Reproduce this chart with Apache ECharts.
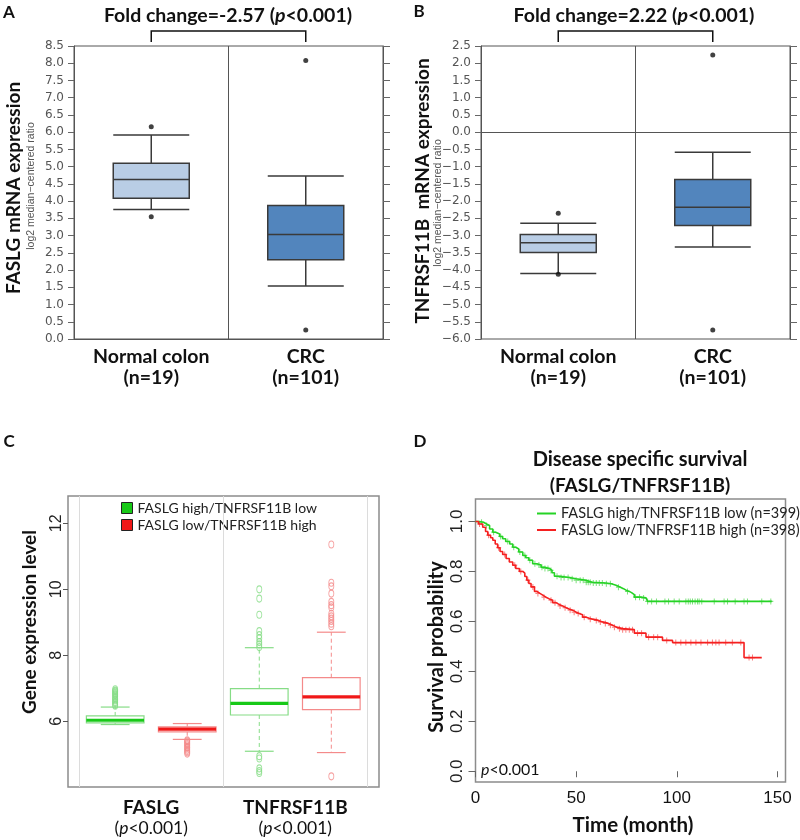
<!DOCTYPE html>
<html><head><meta charset="utf-8">
<script src="https://cdn.jsdelivr.net/npm/echarts@6/dist/echarts.min.js"></script>
<style>html,body{margin:0;padding:0;background:#fff}#c{width:800px;height:840px}</style>
</head><body><div id="c"></div>
<script>
// ---------- Panel A (FASLG, Oncomine) ----------
const aCategories = ['Normal colon', 'CRC'];
const aCounts = ['n=19', 'n=101'];
// [lower whisker, Q1, median, Q3, upper whisker]
const aBoxes = [[3.76, 4.08, 4.63, 5.10, 5.92], [1.54, 2.30, 3.03, 3.87, 4.73]];
const aOutliers = [[0, 6.16], [0, 3.55], [1, 8.08], [1, 0.26]];
const aFoldText = 'Fold change=-2.57';
const aYTitle = 'FASLG mRNA expression';

// ---------- Panel B (TNFRSF11B, Oncomine) ----------
const bCategories = ['Normal colon', 'CRC'];
const bCounts = ['n=19', 'n=101'];
const bBoxes = [[-4.10, -3.49, -3.21, -2.97, -2.64], [-3.33, -2.71, -2.18, -1.37, -0.58]];
const bOutliers = [[0, -2.35], [0, -4.12], [1, 2.24], [1, -5.74]];
const bFoldText = 'Fold change=2.22';
const bYTitle = 'TNFRSF11B  mRNA expression';
const yUnitText = 'log2 median\u2212centered ratio';

// ---------- Panel C (expression by group) ----------
const cGenes = ['FASLG', 'TNFRSF11B'];
const cGroups = ['FASLG high/TNFRSF11B low', 'FASLG low/TNFRSF11B high'];
const cHighLowBoxes = [[5.90, 5.95, 6.03, 6.16, 6.43], [5.09, 6.19, 6.54, 6.99, 8.23]];
const cLowHighBoxes = [[5.45, 5.68, 5.76, 5.83, 5.93], [5.05, 6.35, 6.74, 7.32, 8.70]];
const cHighLowOutliers = [
  [6.47, 6.50, 6.55, 6.58, 6.63, 6.66, 6.70, 6.74, 6.79, 6.82, 6.86, 6.90, 6.93, 6.97],
  [10.0, 9.72, 9.23, 8.73, 8.61, 8.51, 8.40, 8.33, 8.25, 4.94, 4.87, 4.57, 4.49, 4.43]
];
const cLowHighOutliers = [
  [5.42, 5.39, 5.35, 5.31, 5.27, 5.22, 5.19, 5.14, 5.10, 5.06, 5.02],
  [11.36, 10.20, 10.09, 9.87, 9.62, 9.52, 9.45, 9.26, 9.18, 9.11, 9.04, 8.96, 8.88, 4.33]
];
const cYTicks = [6, 8, 10, 12];
const cSeparators = [0.5, 2.5, 4.5];

// ---------- Panel D (Kaplan-Meier) ----------
const dGroups = ['FASLG high/TNFRSF11B low (n=399)', 'FASLG low/TNFRSF11B high (n=398)'];
const dHighLowTime = [0, 2, 4, 5.5, 7, 8.6, 10, 12, 13.5, 15, 17, 18.5, 20, 21.5, 23.5, 25, 26.5, 28.4, 30.5, 32.6, 34.5, 36.7, 38, 39.2, 42, 46.6, 50, 54.9, 58, 64.8, 67.5, 69.8, 72, 73.5, 74.8, 76.4, 77.5, 78.9, 82, 84.7, 85.5, 147.2];
const dHighLowSurv = [1.0, 0.997, 0.99, 0.984, 0.97, 0.957, 0.95, 0.94, 0.931, 0.92, 0.91, 0.897, 0.89, 0.878, 0.864, 0.855, 0.845, 0.831, 0.826, 0.817, 0.812, 0.804, 0.795, 0.781, 0.776, 0.771, 0.765, 0.757, 0.754, 0.751, 0.745, 0.737, 0.731, 0.725, 0.72, 0.715, 0.707, 0.697, 0.694, 0.691, 0.68, 0.68];
const dLowHighTime = [0, 1.5, 3.6, 5, 6.1, 7.5, 8.6, 9.8, 11, 12.2, 13.5, 15.2, 16.8, 18.5, 20, 21.8, 23.5, 24.5, 25.5, 26.5, 27.6, 29.3, 30.5, 32, 33.4, 35, 36.7, 38.3, 40, 41.5, 43.3, 45, 46.5, 48.3, 50, 51.5, 53.2, 55, 56.5, 58.2, 61, 63.1, 66, 68.1, 70, 73.1, 78.9, 84.7, 92.9, 97.9, 133.4, 142.2];
const dLowHighSurv = [1.0, 0.99, 0.977, 0.96, 0.945, 0.935, 0.925, 0.91, 0.895, 0.88, 0.868, 0.852, 0.838, 0.825, 0.812, 0.80, 0.793, 0.78, 0.765, 0.752, 0.738, 0.72, 0.712, 0.705, 0.697, 0.69, 0.685, 0.675, 0.668, 0.662, 0.655, 0.65, 0.645, 0.637, 0.632, 0.627, 0.617, 0.613, 0.609, 0.604, 0.598, 0.592, 0.585, 0.577, 0.571, 0.567, 0.553, 0.537, 0.524, 0.515, 0.455, 0.455];
const dHighLowCensor = [3, 5.5, 9, 12.5, 16, 19, 22, 24.5, 27, 29.5, 31.5, 33, 34.5, 36, 37.5, 40.5, 42.5, 44, 46, 48, 50, 52, 53.5, 55, 56, 57, 58.5, 60, 61.5, 63, 65, 67, 71, 75.5, 79.5, 81.5, 83.5, 85.5, 87.5, 89.9, 94.1, 95.9, 98.7, 101.2, 104.5, 105.7, 106.7, 107.8, 109.1, 110.3, 111.1, 112.4, 118.6, 123.5, 125.2, 129, 133.4, 135.1, 142.2, 146.7];
const dLowHighCensor = [2, 6.5, 11.5, 14.5, 19.5, 22.5, 26, 28.5, 31, 34, 37.5, 39.5, 42, 44.5, 47, 49, 51, 54, 57, 60, 62, 64.5, 67, 69, 71.5, 73.1, 74.7, 76.4, 78, 80.5, 82.5, 86, 88.5, 90.5, 95, 99.5, 102, 104.5, 107, 109.5, 112, 115.3, 117.7, 119.4, 121, 124.3, 127.6, 131.8, 135.9, 137.6];
const dXTicks = [0, 50, 100, 150];
const dYTicks = [0, 0.2, 0.4, 0.6, 0.8, 1.0];

// ---------- styles ----------
const OB_LIGHT = '#b9cde5', OB_DARK = '#5285bd', OB_EDGE = '#3a3a3a';
const GREEN = '#17c917', GREEN_L = '#86dc86', RED = '#f01818', RED_L = '#f48a8a';
const DG = '#25d325', DR = '#f52020';
const fmtOnco = v => (v < 0 ? '\u2212' : '') + Math.abs(v).toFixed(1);

function survAt(times, surv, t) {
  let s = surv[0];
  for (let i = 0; i < times.length; i++) { if (times[i] <= t) s = surv[i]; }
  return s;
}

function makeRBox(main, light) {
  return function (params, api) {
    const x = api.value(0);
    const cx = api.coord([x, api.value(1)])[0];
    const yLo = api.coord([x, api.value(1)])[1];
    const yQ1 = api.coord([x, api.value(2)])[1];
    const yMed = api.coord([x, api.value(3)])[1];
    const yQ3 = api.coord([x, api.value(4)])[1];
    const yHi = api.coord([x, api.value(5)])[1];
    const hb = api.size([0.8, 0])[0] / 2;
    const hc = api.size([0.4, 0])[0] / 2;
    const thin = {stroke: light, lineWidth: 1.2, fill: null};
    const dash = {stroke: light, lineWidth: 1, lineDash: [4, 3], fill: null};
    return {type: 'group', children: [
      {type: 'line', shape: {x1: cx, y1: yQ3, x2: cx, y2: yHi}, style: dash},
      {type: 'line', shape: {x1: cx, y1: yQ1, x2: cx, y2: yLo}, style: dash},
      {type: 'line', shape: {x1: cx - hc, y1: yHi, x2: cx + hc, y2: yHi}, style: thin},
      {type: 'line', shape: {x1: cx - hc, y1: yLo, x2: cx + hc, y2: yLo}, style: thin},
      {type: 'rect', shape: {x: cx - hb, y: yQ3, width: 2 * hb, height: yQ1 - yQ3}, style: {fill: '#fff', stroke: light, lineWidth: 1.2}},
      {type: 'line', shape: {x1: cx - hb, y1: yMed, x2: cx + hb, y2: yMed}, style: {stroke: main, lineWidth: 3.2}}
    ]};
  };
}

const onco = (cats, counts) => ({
  margin: 7,
  formatter: (v, i) => '{b|' + v + '}\n{b|(' + counts[i] + ')}',
  rich: {b: {fontFamily: 'Lato', fontWeight: 'bold', fontSize: 19.5, color: '#111', lineHeight: 21}}
});

function oncoY(grid, min, max, right) {
  return {
    type: 'value', gridIndex: grid, min: min, max: max, interval: 0.5,
    position: right ? 'right' : 'left',
    axisLine: {show: true, lineStyle: {color: '#555', width: 1}},
    axisTick: {show: true, length: right ? 7 : 6, lineStyle: {color: '#666'}},
    splitLine: {show: false},
    axisLabel: right ? {show: false} : {margin: 10, fontFamily: 'DejaVu Sans', fontSize: 12, color: '#555', formatter: fmtOnco}
  };
}

const chart = echarts.init(document.getElementById('c'), null, {renderer: 'canvas', width: 800, height: 840});

const option = {
  animation: false,
  backgroundColor: '#fff',
  textStyle: {fontFamily: 'Lato'},
  grid: [
    {left: 74, top: 46, width: 309, height: 293, show: true, borderColor: '#555', borderWidth: 1, outerBoundsMode: 'none'},
    {left: 481, top: 46, width: 309, height: 293, show: true, borderColor: '#555', borderWidth: 1, outerBoundsMode: 'none'},
    {left: 68, top: 496, width: 311, height: 291, show: true, borderColor: '#8c8c8c', borderWidth: 1.5, outerBoundsMode: 'none'},
    {left: 475.5, top: 499, width: 310, height: 283, show: true, borderColor: '#8c8c8c', borderWidth: 1.5, outerBoundsMode: 'none'}
  ],
  legend: [
    {data: cGroups, orient: 'vertical', left: 116, top: 496, itemGap: 3, itemWidth: 11, itemHeight: 11, icon: 'rect',
     itemStyle: {borderColor: '#222', borderWidth: 1}, textStyle: {fontFamily: 'Lato', fontSize: 14, color: '#222'}, selectedMode: false},
    {data: dGroups, orient: 'vertical', left: 532, top: 501, itemGap: 1.5, itemWidth: 19, itemHeight: 2, icon: 'rect',
     textStyle: {fontFamily: 'Lato', fontSize: 14.5, color: '#222'}, selectedMode: false}
  ],
  xAxis: [
    {type: 'category', gridIndex: 0, data: aCategories, axisLine: {show: true, lineStyle: {color: '#555'}}, axisTick: {show: false},
     splitLine: {show: true, lineStyle: {color: '#555', width: 1}}, axisLabel: onco(aCategories, aCounts)},
    {type: 'category', gridIndex: 1, data: bCategories, axisLine: {show: true, lineStyle: {color: '#555'}}, axisTick: {show: false},
     splitLine: {show: true, lineStyle: {color: '#555', width: 1}}, axisLabel: onco(bCategories, bCounts)},
    {type: 'value', gridIndex: 2, min: 0.345, max: 4.662, axisLine: {show: false}, axisTick: {show: false}, splitLine: {show: false},
     axisLabel: {customValues: [1.5, 3.5], margin: 10,
       formatter: v => '{b|' + cGenes[v < 2.5 ? 0 : 1] + '}\n{n|(}{i|p}{n|<0.001)}',
       rich: {b: {fontFamily: 'Lato', fontWeight: 'bold', fontSize: 19, color: '#111', lineHeight: 21},
              n: {fontFamily: 'Lato', fontSize: 17.5, color: '#111', lineHeight: 21},
              i: {fontFamily: 'Lato', fontStyle: 'italic', fontSize: 17.5, color: '#111', lineHeight: 21}}}},
    {type: 'value', gridIndex: 3, min: 0, max: 154, axisLine: {show: false}, splitLine: {show: false},
     axisTick: {show: true, customValues: dXTicks, length: 6, lineStyle: {color: '#666'}},
     axisLabel: {customValues: dXTicks, margin: 8, fontFamily: 'Liberation Sans', fontSize: 17, color: '#111'}}
  ],
  yAxis: [
    oncoY(0, 0, 8.5, false), oncoY(0, 0, 8.5, true),
    oncoY(1, -6, 2.5, false), oncoY(1, -6, 2.5, true),
    {type: 'value', gridIndex: 2, min: 4.006, max: 12.83, axisLine: {show: false}, splitLine: {show: false},
     axisTick: {show: true, customValues: cYTicks, length: 5, lineStyle: {color: '#555'}},
     axisLabel: {customValues: cYTicks, rotate: 90, margin: 3, fontFamily: 'Liberation Sans', fontSize: 16, color: '#222'}},
    {type: 'value', gridIndex: 3, min: -0.043, max: 1.09, axisLine: {show: false}, splitLine: {show: false},
     axisTick: {show: true, customValues: dYTicks, length: 7, lineStyle: {color: '#666'}},
     axisLabel: {customValues: dYTicks, rotate: 90, margin: 10, fontFamily: 'Liberation Sans', fontSize: 17, color: '#222', formatter: v => v.toFixed(1)}}
  ],
  series: [
    // A
    {type: 'boxplot', xAxisIndex: 0, yAxisIndex: 0, boxWidth: [76, 76], emphasis: {disabled: true},
     itemStyle: {borderColor: OB_EDGE, borderWidth: 1.5},
     data: aBoxes.map((b, i) => ({value: b, itemStyle: {color: i === 0 ? OB_LIGHT : OB_DARK}}))},
    {type: 'scatter', xAxisIndex: 0, yAxisIndex: 0, symbolSize: 5, itemStyle: {color: '#111'}, data: aOutliers},
    // B
    {type: 'boxplot', xAxisIndex: 1, yAxisIndex: 2, boxWidth: [76, 76], emphasis: {disabled: true},
     itemStyle: {borderColor: OB_EDGE, borderWidth: 1.5},
     data: bBoxes.map((b, i) => ({value: b, itemStyle: {color: i === 0 ? OB_LIGHT : OB_DARK}})),
     markLine: {silent: true, symbol: 'none', label: {show: false}, lineStyle: {color: '#555', type: 'solid', width: 1}, data: [{yAxis: 0}]}},
    {type: 'scatter', xAxisIndex: 1, yAxisIndex: 2, symbolSize: 5, itemStyle: {color: '#111'}, data: bOutliers},
    // C
    {type: 'custom', name: cGroups[0], xAxisIndex: 2, yAxisIndex: 4, itemStyle: {color: GREEN}, encode: {x: 0, y: [1, 2, 3, 4, 5]},
     renderItem: makeRBox(GREEN, GREEN_L), data: cHighLowBoxes.map((b, i) => [i * 2 + 1].concat(b)),
     markLine: {silent: true, symbol: 'none', label: {show: false}, lineStyle: {color: '#dcdcdc', type: 'solid', width: 1},
       data: cSeparators.map(v => ({xAxis: v}))}},
    {type: 'custom', name: cGroups[1], xAxisIndex: 2, yAxisIndex: 4, itemStyle: {color: RED}, encode: {x: 0, y: [1, 2, 3, 4, 5]},
     renderItem: makeRBox(RED, RED_L), data: cLowHighBoxes.map((b, i) => [i * 2 + 2].concat(b))},
    {type: 'scatter', xAxisIndex: 2, yAxisIndex: 4, symbol: 'circle', symbolSize: [5, 7],
     itemStyle: {color: 'rgba(0,0,0,0)', borderColor: GREEN_L, borderWidth: 1},
     data: [].concat(...cHighLowOutliers.map((arr, i) => arr.map(v => [i * 2 + 1, v])))},
    {type: 'scatter', xAxisIndex: 2, yAxisIndex: 4, symbol: 'circle', symbolSize: [5, 7],
     itemStyle: {color: 'rgba(0,0,0,0)', borderColor: RED_L, borderWidth: 1},
     data: [].concat(...cLowHighOutliers.map((arr, i) => arr.map(v => [i * 2 + 2, v])))},
    // D
    {type: 'line', name: dGroups[0], xAxisIndex: 3, yAxisIndex: 5, step: 'end', symbol: 'none', showSymbol: false,
     lineStyle: {color: DG, width: 1.6}, itemStyle: {color: DG}, data: dHighLowTime.map((t, i) => [t, dHighLowSurv[i]])},
    {type: 'line', name: dGroups[1], xAxisIndex: 3, yAxisIndex: 5, step: 'end', symbol: 'none', showSymbol: false,
     lineStyle: {color: DR, width: 1.6}, itemStyle: {color: DR}, data: dLowHighTime.map((t, i) => [t, dLowHighSurv[i]])},
    {type: 'scatter', xAxisIndex: 3, yAxisIndex: 5, symbol: 'path://M2,0H3V2H5V3H3V5H2V3H0V2H2Z', symbolSize: [5, 6],
     itemStyle: {color: 'rgba(40,205,40,0.75)'}, data: dHighLowCensor.map(t => [t, survAt(dHighLowTime, dHighLowSurv, t)])},
    {type: 'scatter', xAxisIndex: 3, yAxisIndex: 5, symbol: 'path://M2,0H3V2H5V3H3V5H2V3H0V2H2Z', symbolSize: [5, 6],
     itemStyle: {color: 'rgba(245,40,40,0.75)'}, data: dLowHighCensor.map(t => [t, survAt(dLowHighTime, dLowHighSurv, t)])}
  ]
};
chart.setOption(option);

// ---------- annotations ----------
function txt(x, y, text, font, o) {
  o = o || {};
  return {type: 'text', x: x, y: y, rotation: o.rot || 0, silent: true,
    style: {text: text, font: font, fill: o.fill || '#111',
      align: o.align || 'center', textAlign: o.align || 'center',
      verticalAlign: 'middle', textVerticalAlign: 'middle', rich: o.rich}};
}
function bracket(xIdx, yTop, yBot) {
  const x0 = chart.convertToPixel({xAxisIndex: xIdx}, 0);
  const x1 = chart.convertToPixel({xAxisIndex: xIdx}, 1);
  return {type: 'polyline', silent: true, shape: {points: [[x0, yBot], [x0, yTop], [x1, yTop], [x1, yBot]]},
    style: {stroke: '#111', lineWidth: 1.5, fill: null}};
}
const italicRich = (size, bold) => ({i: {fontFamily: 'Lato', fontStyle: 'italic', fontWeight: bold ? 'bold' : 'normal', fontSize: size, fill: '#111', color: '#111'}});
const R90 = Math.PI / 2;
const graphics = [
  txt(9, 13, 'A', 'bold 17px Lato'),
  txt(419, 12, 'B', 'bold 17px Lato'),
  txt(9, 442, 'C', 'bold 17px Lato'),
  txt(420, 442, 'D', 'bold 17px Lato'),
  txt(228, 16, aFoldText + ' ({i|p}<0.001)', 'bold 19.5px Lato', {rich: italicRich(19.5, true)}),
  txt(634, 16, bFoldText + ' ({i|p}<0.001)', 'bold 19.5px Lato', {rich: italicRich(19.5, true)}),
  bracket(0, 31, 42),
  bracket(1, 31, 42),
  txt(14, 188, aYTitle, 'bold 19px Lato', {rot: R90}),
  txt(31, 186, yUnitText, '10.5px "Liberation Sans"', {rot: R90, fill: '#555'}),
  txt(423, 191, bYTitle, 'bold 19px Lato', {rot: R90}),
  txt(438, 203, yUnitText, '10.5px "Liberation Sans"', {rot: R90, fill: '#555'}),
  txt(30, 622, 'Gene expression level', 'bold 19px Lato', {rot: R90}),
  txt(437, 647, 'Survival probability', 'bold 20px Lato', {rot: R90}),
  txt(640, 460, 'Disease specific survival', 'bold 20px Lato'),
  txt(640, 486, '(FASLG/TNFRSF11B)', 'bold 19px Lato'),
  txt(633, 825, 'Time (month)', 'bold 20.5px Lato'),
  txt(481, 770, '{i|p}<0.001', '16px Lato', {align: 'left', rich: italicRich(16, false)})
];
chart.setOption({graphic: graphics});
</script></body></html>
